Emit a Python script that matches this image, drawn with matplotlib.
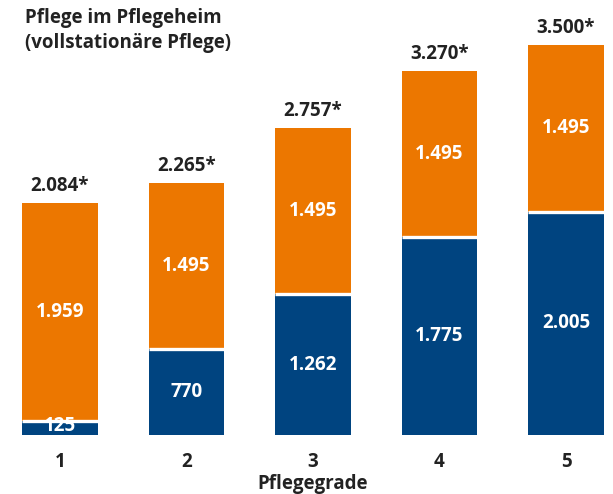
import matplotlib
matplotlib.use("Agg")
import matplotlib.pyplot as plt

plt.rcParams['font.family'] = ['Open Sans', 'DejaVu Sans']

grades = ["1", "2", "3", "4", "5"]
eigenanteil = [125, 770, 1262, 1775, 2005]      # blau, unten
leistung = [1959, 1495, 1495, 1495, 1495]       # orange, oben
totals = [2084, 2265, 2757, 3270, 3500]

blue = "#004480"
orange = "#EC7700"
dark = "#222222"

def de(n):
    return f"{n:,}".replace(",", ".")

fig = plt.figure(figsize=(6.13, 4.94), dpi=100)
ax = fig.add_axes([0, 1 - 435 / 494, 1, 435 / 494])

x = list(range(len(grades)))
w = 0.6
ax.bar(x, eigenanteil, width=w, color=blue, linewidth=0)
ax.bar(x, leistung, width=w, bottom=eigenanteil, color=orange, linewidth=0)
# weisse Trennlinie
for i in x:
    ax.plot([i - w / 2, i + w / 2], [eigenanteil[i], eigenanteil[i]],
            color="white", lw=2.4, solid_capstyle="butt")

fw = "bold"
for i in x:
    ax.text(i, max(eigenanteil[i] / 2, 80), de(eigenanteil[i]), color="white",
            ha="center", va="center", fontsize=13.5, fontweight=fw)
    ax.text(i, eigenanteil[i] + leistung[i] / 2, de(leistung[i]), color="white",
            ha="center", va="center", fontsize=13.5, fontweight=fw)
    ax.text(i, totals[i] + 60, de(totals[i]) + "*", color=dark,
            ha="center", va="bottom", fontsize=13.5, fontweight=fw)
    ax.text(i, -240, grades[i], color=dark, ha="center", va="center",
            fontsize=13.5, fontweight=fw, clip_on=False)

ax.text(2, -440, "Pflegegrade", color=dark, ha="center", va="center",
        fontsize=13.5, fontweight=fw, clip_on=False)

fig.text(25 / 613, 1 - 8 / 494, "Pflege im Pflegeheim\n(vollstationäre Pflege)",
         color=dark, ha="left", va="top", fontsize=13.5, fontweight=fw,
         linespacing=1.35)

ax.set_xlim(-60 / 126.5, (613 - 60) / 126.5)
ax.set_ylim(0, 435 / 0.1114)
ax.axis("off")

fig.savefig("out.png", dpi=100)
